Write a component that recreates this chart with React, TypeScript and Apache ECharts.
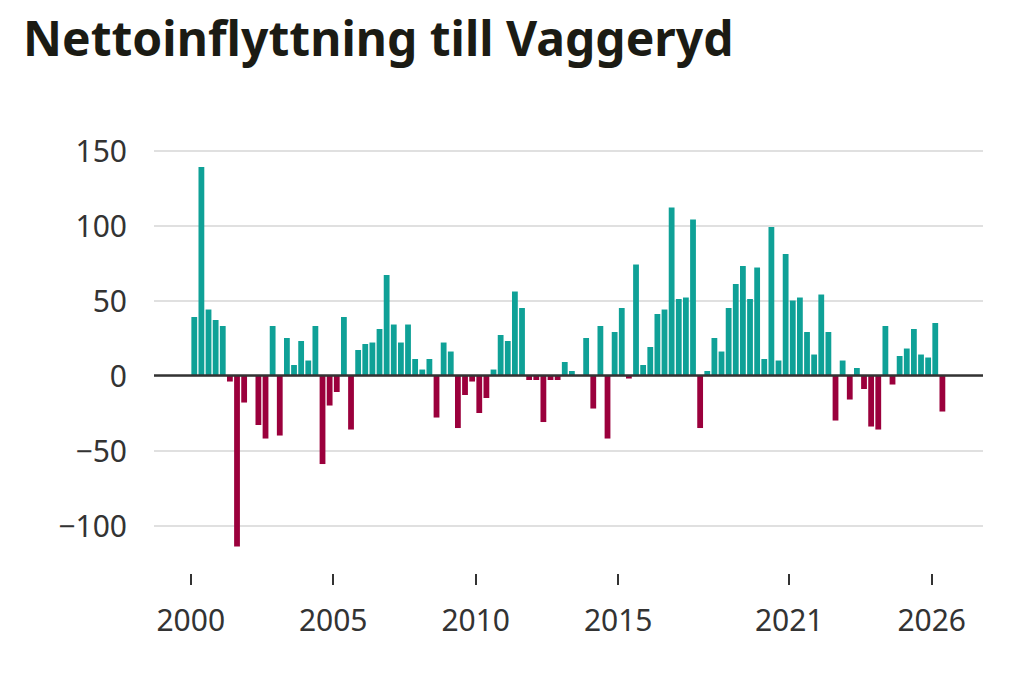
import React, { useEffect, useRef } from "react";
import * as echarts from "echarts";

const TITLE = "Nettoinflyttning till Vaggeryd";
const START_YEAR = 2000;
// Quarterly net in-migration, 2000 Q1 .. 2026 Q2
const quarterValues: number[] = [
  39, 139, 44, 37, 33, -4, -114, -18,
  0, -33, -42, 33, -40, 25, 7, 23,
  10, 33, -59, -20, -11, 39, -36, 17,
  21, 22, 31, 67, 34, 22, 34, 11,
  4, 11, -28, 22, 16, -35, -13, -4,
  -25, -15, 4, 27, 23, 56, 45, -3,
  -3, -31, -3, -3, 9, 3, 0, 25,
  -22, 33, -42, 29, 45, -2, 74, 7,
  19, 41, 44, 112, 51, 52, 104, -35,
  3, 25, 16, 45, 61, 73, 51, 72,
  11, 99, 10, 81, 50, 52, 29, 14,
  54, 29, -30, 10, -16, 5, -9, -34,
  -36, 33, -6, 13, 18, 31, 14, 12,
  35, -24,
];
const tickYears: number[] = [2000, 2005, 2010, 2015, 2021, 2026];

const POS_COLOR = "#0fa197";
const NEG_COLOR = "#9b003c";
const FONT = "'Noto Sans', 'Open Sans', sans-serif";

export default function App() {
  const ref = useRef<HTMLDivElement>(null);
  useEffect(() => {
    document.body.style.margin = "0";
    const chart = echarts.init(ref.current!, null, { renderer: "svg" });
    const data = quarterValues.map((v, i) => ({
      value: [START_YEAR + (i + 0.5) / 4, v],
      itemStyle: { color: v >= 0 ? POS_COLOR : NEG_COLOR },
    }));
    const fmt = (v: number) => (v < 0 ? "\u2212" + Math.abs(v) : String(v));
    chart.setOption({
      animation: false,
      backgroundColor: "#ffffff",
      title: {
        text: TITLE,
        left: 18,
        top: 8,
        textStyle: {
          fontFamily: FONT,
          fontSize: 48,
          fontWeight: 700,
          color: "#1b1b14",
        },
      },
      grid: { left: 154, right: 41, top: 150.5, bottom: 111, containLabel: false },
      xAxis: {
        type: "value",
        min: 1998.712,
        max: 2027.8,
        axisLine: { show: false, onZero: false },
        splitLine: { show: false },
        axisTick: {
          show: true,
          customValues: tickYears,
          length: 11,
          lineStyle: { color: "#333", width: 2 },
        },
        axisLabel: {
          customValues: tickYears,
          formatter: (v: number) => String(v),
          fontFamily: FONT,
          fontSize: 30,
          color: "#333",
          margin: 30,
        },
      },
      yAxis: {
        type: "value",
        min: -132.3,
        max: 150,
        axisLine: { show: false },
        axisTick: { show: false },
        splitLine: {
          show: true,
          showMinLine: false,
          lineStyle: { color: "#e0e0e0", width: 2 },
        },
        axisLabel: {
          showMinLabel: false,
          formatter: fmt,
          fontFamily: FONT,
          fontSize: 30,
          color: "#333",
          margin: 27,
          padding: [8, 0, 0, 0],
        },
      },
      series: [
        {
          type: "bar",
          data,
          barWidth: 5.8,
          markLine: {
            silent: true,
            symbol: "none",
            label: { show: false },
            lineStyle: { color: "#333", width: 2.5, type: "solid" },
            data: [{ yAxis: 0 }],
          },
        },
      ],
    });
    return () => chart.dispose();
  }, []);
  return <div ref={ref} style={{ width: 1024, height: 685 }} />;
}
